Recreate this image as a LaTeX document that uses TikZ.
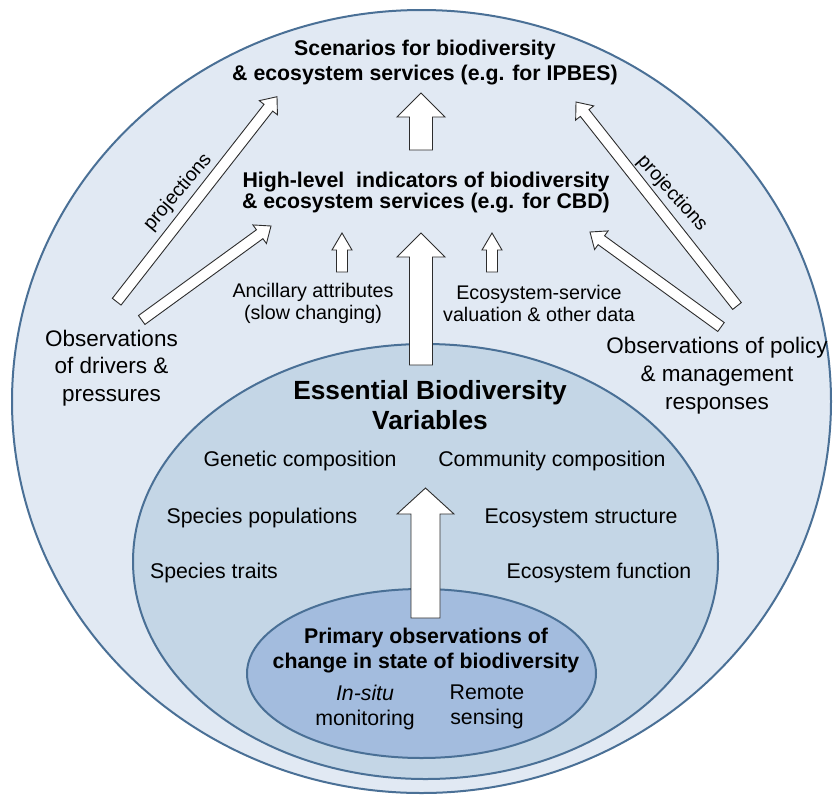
\documentclass[tikz,border=0pt]{standalone}
\usepackage{fontspec}
\setmainfont{Liberation Sans}
\usetikzlibrary{calc,shapes.geometric}
\definecolor{outerfill}{RGB}{225,233,243}
\definecolor{midfill}{RGB}{196,214,230}
\definecolor{innerfill}{RGB}{163,188,222}
\definecolor{rim}{RGB}{74,112,150}
\definecolor{arrowline}{RGB}{45,45,45}
\newcommand\fsz[2]{\fontsize{#1}{#2}\selectfont}
% block arrow: #1 start, #2 tip, #3 shaft half width, #4 head half width, #5 head length
\newcommand\blockarr[5]{%
  \coordinate (ba-h) at ($(#2)!#5!(#1)$);
  \draw[blockarrow] ($(#1)!#3!90:(#2)$) -- ($(ba-h)!#3!90:(#2)$) -- ($(ba-h)!#4!90:(#2)$) -- (#2)
    -- ($(ba-h)!#4!-90:(#2)$) -- ($(ba-h)!#3!-90:(#2)$) -- ($(#1)!#3!-90:(#2)$) -- cycle;}
\tikzset{
  blockarrow/.style={draw=arrowline, fill=white, line width=0.9pt, line join=miter},
  zone/.style={ellipse, draw=rim, line width=2pt, inner sep=0pt},
  lbl/.style={align=center, text=black, inner sep=0pt},
  head/.style={lbl, font=\bfseries\fsz{21.3}{25}},
  item/.style={lbl, font=\fsz{21.3}{25}},
  small/.style={lbl, font=\fsz{19.7}{22}},
  obs/.style={lbl, font=\fsz{22.5}{27.5}},
  proj/.style={lbl, font=\fsz{19.5}{22}}
}
\begin{document}
\begin{tikzpicture}[x=1pt, y=-1pt]
\useasboundingbox (0,0) rectangle (833,796);
\fill[white] (0,0) rectangle (833,796);
% zones
\node[zone, fill=outerfill, minimum width=819pt, minimum height=783pt] (outer) at (421.5,401.5) {};
\node[zone, fill=midfill, minimum width=585pt, minimum height=435pt] (middle) at (425.5,561.5) {};
\node[zone, fill=innerfill, minimum width=349pt, minimum height=169pt] (inner) at (421.5,673.5) {};
% arrow end points
\coordinate (sA) at (421,150);   \coordinate (eA) at (421,93);
\coordinate (sB) at (421,365);   \coordinate (eB) at (421,233);
\coordinate (sC) at (342,272);   \coordinate (eC) at (342,233);
\coordinate (sD) at (492,272);   \coordinate (eD) at (492,233);
\coordinate (sE) at (425.5,618); \coordinate (eE) at (425.5,488);
\coordinate (sF) at (116.7,301.7); \coordinate (eF) at (277,96.7);
\coordinate (sG) at (141.7,320); \coordinate (eG) at (271,226);
\coordinate (sH) at (737,306);   \coordinate (eH) at (576,102);
\coordinate (sI) at (721,327);   \coordinate (eI) at (590,232);
% arrows
\blockarr{sA}{eA}{11.5pt}{24pt}{24pt}
\blockarr{sB}{eB}{11.5pt}{24pt}{24pt}
\blockarr{sC}{eC}{5.5pt}{10pt}{17pt}
\blockarr{sD}{eD}{5.5pt}{10pt}{17pt}
\blockarr{sE}{eE}{14.5pt}{28.5pt}{26pt}
\blockarr{sF}{eF}{5.5pt}{11.5pt}{14pt}
\blockarr{sG}{eG}{5.5pt}{11.5pt}{14pt}
\blockarr{sH}{eH}{5.5pt}{11.5pt}{14pt}
\blockarr{sI}{eI}{5.5pt}{11.5pt}{14pt}
% texts
\node[head] (scen) at (425,62.5) {Scenarios for biodiversity\\\& ecosystem services (e.g. for IPBES)};
\node[head, font=\bfseries\fsz{21.3}{21.6}] (hl) at (426,192.5) {High-level\ \ indicators of biodiversity\\\& ecosystem services (e.g. for CBD)};
\node[small] (anc) at (313,303) {Ancillary attributes\\(slow changing)};
\node[small] (eco) at (539,303) {Ecosystem-service\\valuation \& other data};
\node[obs] (drv) at (111.5,368) {Observations\\of drivers \&\\pressures};
\node[obs, font=\fsz{22.5}{28}] (pol) at (717,376) {Observations of policy\\\& management\\responses};
\node[proj, rotate=50] (projL) at (178,192.5) {projections};
\node[proj, rotate=-48] (projR) at (672,193.5) {projections};
\node[lbl, font=\bfseries\fsz{26.3}{30}] (ebv) at (430,405) {Essential Biodiversity\\Variables};
\node[item] (gen) at (300,461) {Genetic composition};
\node[item] (spp) at (262,518) {Species populations};
\node[item] (spt) at (214,573) {Species traits};
\node[item] (com) at (552,461) {Community composition};
\node[item] (est) at (581,518) {Ecosystem structure};
\node[item] (efn) at (599,573) {Ecosystem function};
\node[head] (prim) at (426,650.5) {Primary observations of\\change in state of biodiversity};
\node[item] (insitu) at (365,707.5) {\itshape In-situ\\monitoring};
\node[item] (remote) at (487,706.5) {Remote\\sensing};
\end{tikzpicture}
\end{document}
